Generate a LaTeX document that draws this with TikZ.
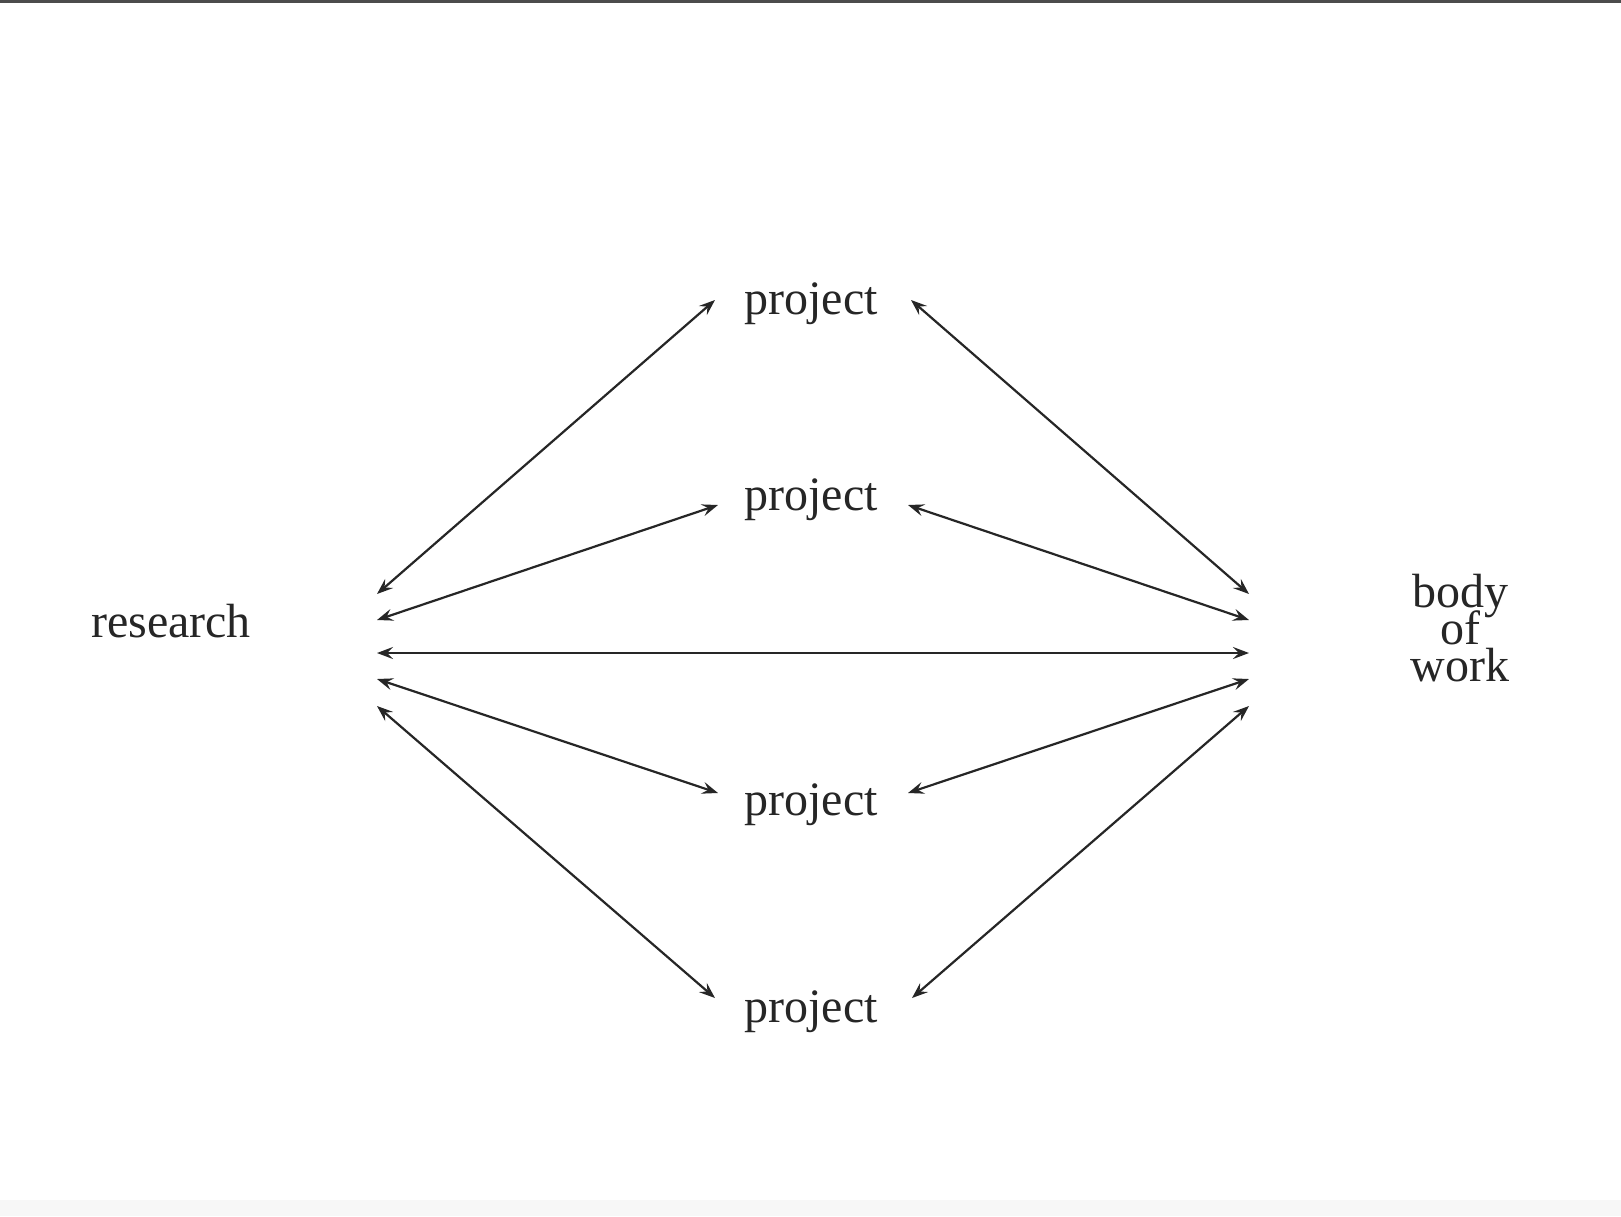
\documentclass[tikz,border=0pt]{standalone}
\usepackage{fontspec}
\setmainfont{Liberation Serif}
\usetikzlibrary{arrows.meta}
\newcommand\mytightlines{\lineskiplimit=-100pt\relax\lineskip=0pt\relax}
\begin{document}
\begin{tikzpicture}[x=0.5pt,y=-0.5pt,
  lbl/.style={inner sep=0pt, font=\fontsize{24}{18.5}\selectfont\mytightlines, text=black!85},
  link/.style={draw=black!85, line width=1.1pt, {Stealth[length=8pt,width=6pt,inset=3pt]}-{Stealth[length=8pt,width=6pt,inset=3pt]}}]
\useasboundingbox (0,0) rectangle (1621,1216);
\fill[white] (0,0) rectangle (1621,1216);
\fill[black!70] (0,0) rectangle (1621,2.5);
\fill[black!3] (0,1200) rectangle (1621,1216);
% nodes
\node[lbl] (research) at (171,621) {research};
\node[lbl] (p1) at (811,304) {project};
\node[lbl] (p2) at (811,500) {project};
\node[lbl] (p3) at (811,805) {project};
\node[lbl] (p4) at (811,1012) {project};
\node[lbl, align=center] (body) at (1460,628) {body\\of\\work};
% endpoints
\coordinate (L1) at (377,594);
\coordinate (L2) at (377,620);
\coordinate (L3) at (377,653);
\coordinate (L4) at (377,679);
\coordinate (L5) at (377,706);
\coordinate (R1) at (1249,594);
\coordinate (R2) at (1249,620);
\coordinate (R3) at (1249,653);
\coordinate (R4) at (1249,679);
\coordinate (R5) at (1249,706);
\coordinate (p1l) at (715,300);
\coordinate (p1r) at (911,300);
\coordinate (p2l) at (718,505);
\coordinate (p2r) at (908,505);
\coordinate (p3l) at (718,793);
\coordinate (p3r) at (908,793);
\coordinate (p4l) at (715,998);
\coordinate (p4r) at (912,998);
% connectors
\draw[link] (L1) -- (p1l);
\draw[link] (L2) -- (p2l);
\draw[link] (L3) -- (R3);
\draw[link] (L4) -- (p3l);
\draw[link] (L5) -- (p4l);
\draw[link] (p1r) -- (R1);
\draw[link] (p2r) -- (R2);
\draw[link] (p3r) -- (R4);
\draw[link] (p4r) -- (R5);
\end{tikzpicture}
\end{document}
